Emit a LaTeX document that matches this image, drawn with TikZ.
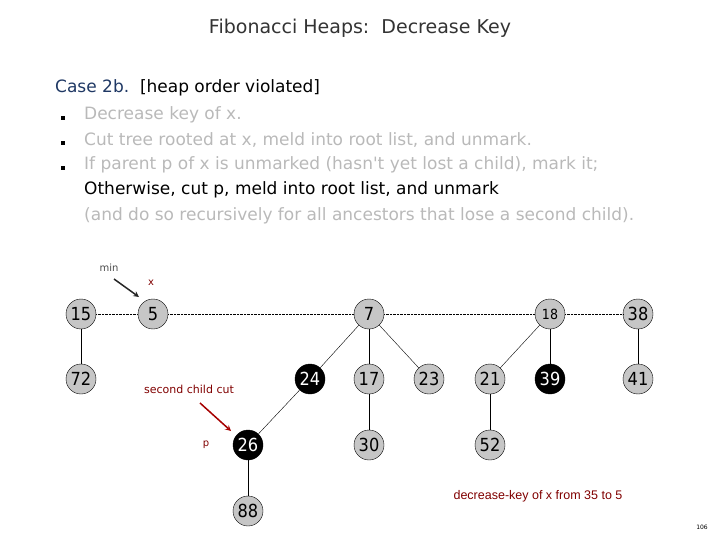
\documentclass[tikz,border=0pt]{standalone}
\usepackage{fontspec}
\setmainfont{DejaVu Sans}
\newfontfamily\numfont{DejaVu Sans Condensed}
\newfontfamily\arialf{Liberation Sans}
\begin{document}
\begin{tikzpicture}[x=1pt,y=-1pt,
  hn/.style={circle,draw=black,fill=gray!45,minimum size=30pt,inner sep=0pt,font=\numfont\fontsize{18}{18}\selectfont},
  mk/.style={hn,fill=black,text=white},
  rl/.style={densely dotted},
  tl/.style={thin},
  txt/.style={anchor=west,inner sep=0pt,font=\fontsize{17}{17}\selectfont,text=gray!55},
  bul/.style={fill=black,minimum size=3.5pt,inner sep=0pt}]
\useasboundingbox (0,0) rectangle (720,540);
\node[font=\fontsize{19}{19}\selectfont,text=black!80] (title) at (360,28) {Fibonacci Heaps:\ \ Decrease Key};
\node[txt,text=black] (case) at (55,88) {\textcolor[HTML]{1F3864}{Case 2b.}\ \ [heap order violated]};
\node[bul] (b1) at (63,118) {}; \node[txt] (t1) at (84,115) {Decrease key of x.};
\node[bul] (b2) at (63,143) {}; \node[txt] (t2) at (84,140) {Cut tree rooted at x, meld into root list, and unmark.};
\node[bul] (b3) at (63,168) {}; \node[txt] (t3) at (84,165) {If parent p of x is unmarked (hasn\textquotesingle t yet lost a child), mark it;};
\node[txt,text=black] (t4) at (84,190) {Otherwise, cut p, meld into root list, and unmark};
\node[txt] (t5) at (84,216) {(and do so recursively for all ancestors that lose a second child).};
\node[hn] (n15) at (81,314) {15};
\node[hn] (n5) at (153,314) {5};
\node[hn] (n7) at (369,314) {7};
\node[hn,font=\numfont\fontsize{14}{14}\selectfont] (n18) at (550,314) {18};
\node[hn] (n38) at (638,314) {38};
\node[hn] (n72) at (81,379) {72};
\node[mk] (n24) at (310,379) {24};
\node[hn] (n17) at (369,379) {17};
\node[hn] (n23) at (429,379) {23};
\node[hn] (n21) at (490,379) {21};
\node[mk] (n39) at (550,379) {39};
\node[hn] (n41) at (638,379) {41};
\node[mk] (n26) at (248,445) {26};
\node[hn] (n30) at (369,445) {30};
\node[hn] (n52) at (490,445) {52};
\node[hn] (n88) at (248,511) {88};
\draw[rl] (n15)--(n5); \draw[rl] (n5)--(n7); \draw[rl] (n7)--(n18); \draw[rl] (n18)--(n38);
\draw[tl] (n15)--(n72); \draw[tl] (n7)--(n24); \draw[tl] (n7)--(n17); \draw[tl] (n7)--(n23);
\draw[tl] (n24)--(n26); \draw[tl] (n26)--(n88); \draw[tl] (n17)--(n30);
\draw[tl] (n18)--(n21); \draw[tl] (n18)--(n39); \draw[tl] (n21)--(n52); \draw[tl] (n38)--(n41);
\node[font=\fontsize{10}{10}\selectfont,text=black!70] (min) at (109,268) {min};
\coordinate (ma) at (114,279); \coordinate (mb) at (139,297);
\draw[line width=1.5pt,-stealth,black!85] (ma)--(mb);
\node[font=\fontsize{10}{10}\selectfont,text=red!50!black] (xl) at (151,283) {x};
\node[font=\fontsize{11}{11}\selectfont,text=red!50!black] (scc) at (189,389) {second child cut};
\coordinate (sa) at (200,403); \coordinate (sb) at (231,431);
\draw[line width=1.5pt,-stealth,red!65!black] (sa)--(sb);
\node[font=\fontsize{10}{10}\selectfont,text=red!50!black] (pl) at (206,445) {p};
\node[font=\arialf\fontsize{12.5}{12.5}\selectfont,text=red!50!black] (dk) at (538,496) {decrease-key of x from 35 to 5};
\node[font=\fontsize{6}{6}\selectfont] (pg) at (702,527) {106};
\end{tikzpicture}
\end{document}
